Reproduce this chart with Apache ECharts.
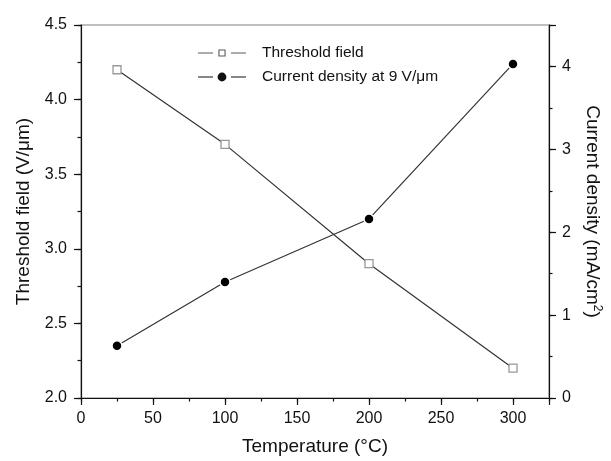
<!DOCTYPE html>
<html>
<head>
<meta charset="utf-8">
<script src="https://cdn.jsdelivr.net/npm/echarts@6/dist/echarts.min.js"></script>
<style>
  html, body { margin: 0; padding: 0; background: #fff; }
  #chart { width: 611px; height: 461px; }
</style>
</head>
<body>
<div id="chart"></div>
<script>
// values
var temperatures = [25, 100, 200, 300];
var thresholdField = [4.2, 3.7, 2.9, 2.2];
var currentDensity = [0.63, 1.40, 2.16, 4.03];
var seriesNames = ['Threshold field', 'Current density at 9 V/\u03bcm'];

var FONT = '"Liberation Sans", Arial, Helvetica, sans-serif';
var INK = '#111';

function pairs(xs, ys) {
	var out = [];
	for (var i = 0; i < xs.length; i++) {
		out.push([xs[i], ys[i]]);
	}
	return out;
}

function isMultiple(v, step) {
	var r = v / step;
	return Math.abs(r - Math.round(r)) < 1e-6;
}

// legend keys in the Origin style: line, gap, symbol, gap, line (48 x 10 box)
var specks = 'M0,0 L0.01,0 L0.01,0.01 Z M47.99,9.99 L48,9.99 L48,10 Z ';
var bars = 'M0,4.4 L15,4.4 L15,5.6 L0,5.6 Z M33,4.4 L48,4.4 L48,5.6 L33,5.6 Z ';
var squareKey = 'path://' + specks + bars +
	'M20.4,1.4 L27.6,1.4 L27.6,8.6 L20.4,8.6 Z M21.5,2.5 L21.5,7.5 L26.5,7.5 L26.5,2.5 Z';
var circleKey = 'path://' + specks + bars +
	'M19.6,5 A4.4,4.4 0 1,0 28.4,5 A4.4,4.4 0 1,0 19.6,5 Z';

var line = { show: true, lineStyle: { color: INK, width: 1.2 } };
var noLine = { show: false };
var tickStyle = { color: INK, width: 1.2 };

// main axes carry minor ticks + labels, overlay axes carry the longer major ticks
var xMain = {
	type: 'value', min: 0, max: 325, interval: 25, position: 'bottom',
	axisLine: line,
	axisTick: { show: true, length: 3.5, lineStyle: tickStyle },
	axisLabel: {
		margin: 13, color: INK, fontFamily: FONT, fontSize: 16,
		formatter: function(v) { return (isMultiple(v, 50) && v <= 300) ? String(v) : ''; }
	},
	splitLine: { show: false },
	name: 'Temperature (\u00b0C)', nameLocation: 'middle', nameGap: 39,
	nameTextStyle: { color: INK, fontFamily: FONT, fontSize: 19 }
};
var xMajor = {
	type: 'value', min: 0, max: 325, interval: 50, position: 'bottom',
	axisLine: noLine,
	axisTick: { show: true, length: 7, lineStyle: tickStyle },
	axisLabel: { show: false },
	splitLine: { show: false }
};

var yLeft = {
	type: 'value', min: 2, max: 4.5, interval: 0.25, position: 'left',
	axisLine: line,
	axisTick: { show: true, length: 3.5, lineStyle: tickStyle },
	axisLabel: {
		margin: 14, color: INK, fontFamily: FONT, fontSize: 16,
		formatter: function(v) { return isMultiple(v, 0.5) ? v.toFixed(1) : ''; }
	},
	splitLine: { show: false },
	name: 'Threshold field (V/\u03bcm)', nameLocation: 'middle', nameGap: 48,
	nameTextStyle: { color: INK, fontFamily: FONT, fontSize: 19 }
};
var yLeftMajor = {
	type: 'value', min: 2, max: 4.5, interval: 0.5, position: 'left',
	axisLine: noLine,
	axisTick: { show: true, length: 7, lineStyle: tickStyle },
	axisLabel: { show: false },
	splitLine: { show: false }
};
var yRight = {
	type: 'value', min: 0, max: 4.5, interval: 0.5, position: 'right',
	axisLine: line,
	axisTick: { show: true, length: 3.5, lineStyle: tickStyle },
	axisLabel: {
		margin: 13, color: INK, fontFamily: FONT, fontSize: 16,
		formatter: function(v) { return (isMultiple(v, 1) && v <= 4) ? String(v) : ''; }
	},
	splitLine: { show: false },
	name: 'Current density (mA/cm{sup|2})', nameLocation: 'middle', nameGap: 32, nameRotate: -90,
	nameTextStyle: {
		color: INK, fontFamily: FONT, fontSize: 19,
		rich: { sup: { color: INK, fontFamily: FONT, fontSize: 12, padding: [0, 0, 10, 0] } }
	}
};
var yRightMajor = {
	type: 'value', min: 0, max: 4.5, interval: 1, position: 'right',
	axisLine: noLine,
	axisTick: { show: true, length: 7, lineStyle: tickStyle },
	axisLabel: { show: false },
	splitLine: { show: false }
};

var option = {
	backgroundColor: '#fff',
	animation: false,
	grid: {
		left: 81, right: 53, top: 25, bottom: 55,
		show: true, borderColor: '#aaa', borderWidth: 1.5, backgroundColor: 'transparent'
	},
	legend: {
		left: 193, top: 40, orient: 'vertical',
		itemWidth: 48, itemHeight: 10, itemGap: 8,
		textStyle: { color: INK, fontFamily: FONT, fontSize: 15.5, padding: [0, 0, 0, 11] },
		data: [
			{ name: seriesNames[0], icon: squareKey, itemStyle: { color: '#5a5a5a', borderWidth: 0 } },
			{ name: seriesNames[1], icon: circleKey, itemStyle: { color: '#111', borderWidth: 0 } }
		]
	},
	xAxis: [xMain, xMajor],
	yAxis: [yLeft, yLeftMajor, yRight, yRightMajor],
	series: [{
		name: seriesNames[0],
		type: 'line',
		xAxisIndex: 0, yAxisIndex: 0,
		symbol: 'rect', symbolSize: 8,
		itemStyle: { color: '#fff', borderColor: '#999', borderWidth: 1.3 },
		lineStyle: { color: '#333', width: 1.2 },
		data: pairs(temperatures, thresholdField),
		z: 3
	}, {
		name: seriesNames[1],
		type: 'line',
		xAxisIndex: 0, yAxisIndex: 2,
		symbol: 'circle', symbolSize: 10,
		itemStyle: { color: '#000', borderColor: '#fff', borderWidth: 1.5 },
		lineStyle: { color: '#333', width: 1.2 },
		data: pairs(temperatures, currentDensity),
		z: 3
	}]
};

var myChart = echarts.init(document.getElementById('chart'));
myChart.setOption(option);
</script>
</body>
</html>
